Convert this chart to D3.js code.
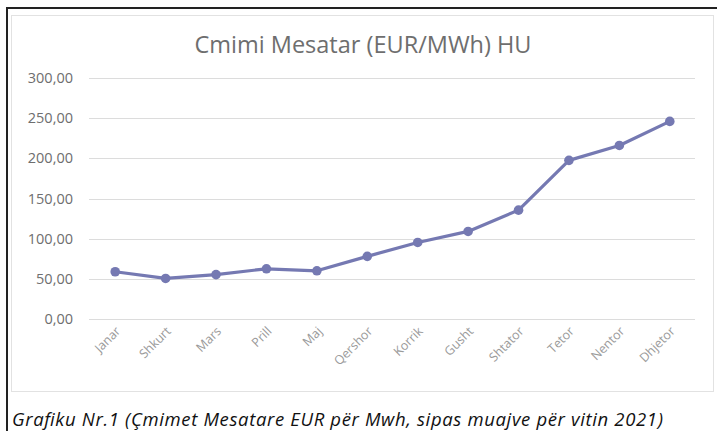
<!DOCTYPE html>
<html>
<head>
<meta charset="utf-8">
<script src="https://cdn.jsdelivr.net/npm/d3@7"></script>
<style>
  body { margin: 0; background: #fff; }
</style>
</head>
<body>
<div id="chart"></div>
<script>
// monthly average price, EUR/MWh, HU 2021
const months = ["Janar", "Shkurt", "Mars", "Prill", "Maj", "Qershor", "Korrik", "Gusht", "Shtator", "Tetor", "Nentor", "Dhjetor"];
const prices = [58.8, 50.5, 55.3, 62.5, 60.0, 78.0, 95.3, 109.0, 135.5, 197.5, 216.0, 246.0];
const yTicks = [0, 50, 100, 150, 200, 250, 300];

const W = 717, H = 431;
const color = "#7579b2";
const grey = "#6e6e6e";

const svg = d3.select("#chart").append("svg")
  .attr("width", W)
  .attr("height", H)
  .style("display", "block");

// scanned page frame
svg.append("line").attr("x1", 6).attr("x2", W).attr("y1", 8).attr("y2", 8)
  .attr("stroke", "#222").attr("stroke-width", 2);
svg.append("line").attr("x1", 7).attr("x2", 7).attr("y1", 7).attr("y2", H)
  .attr("stroke", "#222").attr("stroke-width", 2);

// chart box
svg.append("rect")
  .attr("x", 11.5).attr("y", 15.5)
  .attr("width", 702).attr("height", 376)
  .attr("fill", "#fff")
  .attr("stroke", "#e2e2e2");

const x = d3.scaleBand().domain(months).range([90, 695]);
const y = d3.scaleLinear().domain([0, 300]).range([319, 78]);

// grid
svg.append("g")
  .selectAll("line")
  .data(yTicks)
  .join("line")
  .attr("x1", 89).attr("x2", 695)
  .attr("y1", d => Math.round(y(d)) + 0.5)
  .attr("y2", d => Math.round(y(d)) + 0.5)
  .attr("stroke", "#dcdcdc");

// y axis labels
const fmt = d => d3.format(".2f")(d).replace(".", ",");
svg.append("g")
  .selectAll("text")
  .data(yTicks)
  .join("text")
  .attr("x", 73)
  .attr("y", d => y(d) + 5)
  .attr("text-anchor", "end")
  .attr("font-family", "Open Sans, sans-serif")
  .attr("font-size", 14.5)
  .attr("fill", grey)
  .text(fmt);

// x axis labels, rotated
svg.append("g")
  .selectAll("text")
  .data(months)
  .join("text")
  .attr("transform", d => `translate(${x(d) + x.bandwidth() / 2 + 6},${332}) rotate(-45)`)
  .attr("text-anchor", "end")
  .attr("font-family", "Open Sans, sans-serif")
  .attr("font-size", 12.5)
  .attr("fill", "#9a9a9a")
  .text(d => d);

// line + markers
const line = d3.line()
  .x((d, i) => x(months[i]) + x.bandwidth() / 2)
  .y(d => y(d));

svg.append("path")
  .datum(prices)
  .attr("d", line)
  .attr("fill", "none")
  .attr("stroke", color)
  .attr("stroke-width", 3.2)
  .attr("stroke-linejoin", "round");

svg.append("g")
  .selectAll("circle")
  .data(prices)
  .join("circle")
  .attr("cx", (d, i) => x(months[i]) + x.bandwidth() / 2)
  .attr("cy", d => y(d))
  .attr("r", 4.8)
  .attr("fill", color);

// title
svg.append("text")
  .attr("x", 363)
  .attr("y", 53)
  .attr("text-anchor", "middle")
  .attr("font-family", "Open Sans, sans-serif")
  .attr("font-size", 23.5)
  .attr("fill", grey)
  .text("Cmimi Mesatar (EUR/MWh) HU");

// caption below the chart
svg.append("text")
  .attr("x", 12)
  .attr("y", 426)
  .attr("font-family", "Open Sans, sans-serif")
  .attr("font-style", "italic")
  .attr("font-weight", 500)
  .attr("font-size", 18.5)
  .attr("textLength", 651)
  .attr("lengthAdjust", "spacing")
  .attr("fill", "#111")
  .text("Grafiku Nr.1 (Çmimet Mesatare EUR për Mwh, sipas muajve për vitin 2021)");
</script>
</body>
</html>
